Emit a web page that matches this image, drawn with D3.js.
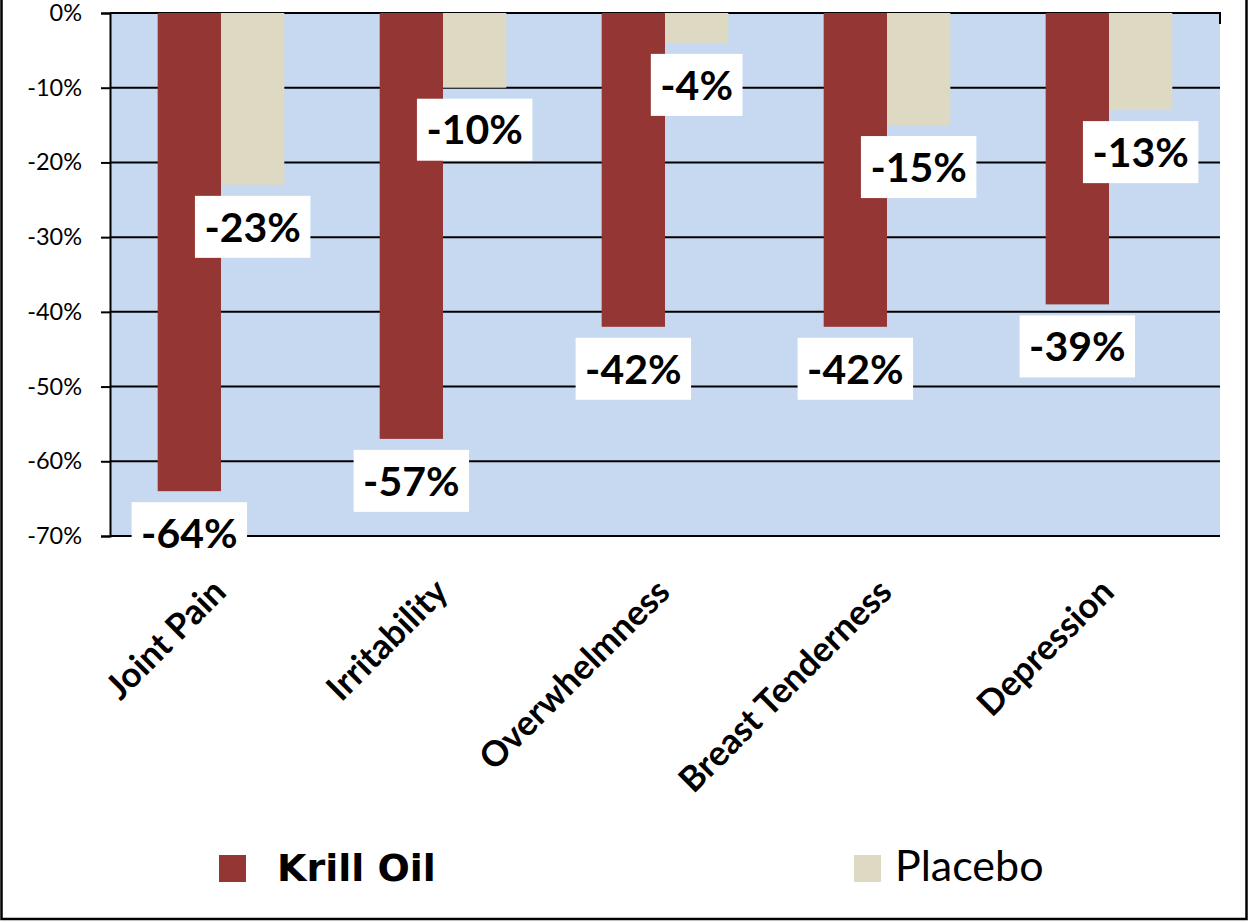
<!DOCTYPE html>
<html>
<head>
<meta charset="utf-8">
<script src="https://cdn.jsdelivr.net/npm/d3@7/dist/d3.min.js"></script>
<style>
  html, body { margin: 0; padding: 0; background: #ffffff; }
  svg { display: block; }
</style>
</head>
<body>
<svg id="chart" width="1249" height="922"></svg>
<script>
// Symptom categories and percentage change per group
const categories = ["Joint Pain", "Irritability", "Overwhelmness", "Breast Tenderness", "Depression"];
const seriesNames = ["Krill Oil", "Placebo"];
const krillOil = [-64, -57, -42, -42, -39];
const placebo = [-23, -10, -4, -15, -13];
const yTicks = [0, -10, -20, -30, -40, -50, -60, -70];

const colors = { "Krill Oil": "#943634", "Placebo": "#DDD9C3" };
const plotBg = "#C6D9F1";

const svg = d3.select("#chart");
const plot = { left: 110, top: 13, right: 1220, bottom: 536 };

const x0 = d3.scaleBand().domain(categories).range([plot.left, plot.right]).paddingInner(0).paddingOuter(0);
const x1 = d3.scaleBand().domain(seriesNames).range([0, x0.bandwidth()]).paddingInner(0).paddingOuter(0.753);
const y = d3.scaleLinear().domain([-70, 0]).range([plot.bottom, plot.top]);

// outer frame
svg.append("rect")
  .attr("x", 1.5).attr("y", -6).attr("width", 1245).attr("height", 925)
  .attr("fill", "none").attr("stroke", "#000").attr("stroke-width", 2.5);

// plot background
svg.append("rect")
  .attr("x", plot.left).attr("y", plot.top)
  .attr("width", plot.right - plot.left).attr("height", plot.bottom - plot.top)
  .attr("fill", plotBg);

// horizontal gridlines (drawn beneath the bars)
svg.append("g").selectAll("line").data(yTicks).join("line")
  .attr("x1", plot.left).attr("x2", plot.right)
  .attr("y1", d => y(d)).attr("y2", d => y(d))
  .attr("stroke", "#000").attr("stroke-width", 2);

// short right-edge mark at the top
svg.append("line")
  .attr("x1", plot.right).attr("x2", plot.right)
  .attr("y1", plot.top - 1).attr("y2", plot.top + 11)
  .attr("stroke", "#000").attr("stroke-width", 2);

// y axis
const yAxis = d3.axisLeft(y).tickValues(yTicks).tickSize(9).tickFormat(d => d + "%");
const gy = svg.append("g").attr("transform", `translate(${plot.left},0)`).call(yAxis);
gy.select(".domain").attr("stroke", "#000").attr("stroke-width", 2);
gy.selectAll(".tick line").attr("stroke", "#000").attr("stroke-width", 2);
gy.selectAll(".tick text")
  .attr("x", -28)
  .attr("fill", "#000")
  .style("font-family", "Lato, 'Open Sans', sans-serif")
  .style("font-size", "23.5px");

// rows of data for bars
const rows = categories.map((c, i) => ({ category: c, values: [
  { series: "Krill Oil", value: krillOil[i] },
  { series: "Placebo", value: placebo[i] }
]}));

const groups = svg.append("g").selectAll("g").data(rows).join("g")
  .attr("transform", d => `translate(${x0(d.category)},0)`);

groups.selectAll("rect").data(d => d.values).join("rect")
  .attr("x", d => x1(d.series))
  .attr("width", x1.bandwidth())
  .attr("y", y(0))
  .attr("height", d => y(d.value) - y(0))
  .attr("fill", d => colors[d.series]);

// value labels in white boxes below each bar end
const labelFont = "Lato, 'Open Sans', sans-serif";
const labels = svg.append("g");
rows.forEach(r => {
  r.values.forEach(v => {
    const cx = x0(r.category) + x1(v.series) + x1.bandwidth() / 2;
    const cy = y(v.value) + 42;
    const g = labels.append("g");
    const box = g.append("rect").attr("fill", "#fff");
    const t = g.append("text")
      .attr("x", cx).attr("y", cy).attr("dy", "0.36em")
      .attr("text-anchor", "middle")
      .style("font-family", labelFont)
      .style("font-weight", "bold")
      .style("font-size", "41px")
      .attr("fill", "#000")
      .text(v.value + "%");
    const w = t.node().getComputedTextLength() + 19;
    box.attr("x", cx - w / 2).attr("y", cy - 31).attr("width", w).attr("height", 62);
  });
});

// rotated category labels
svg.append("g").selectAll("text").data(categories).join("text")
  .attr("transform", d => `translate(${x0(d) + x0.bandwidth() / 2 + 7},${594}) rotate(-45)`)
  .attr("text-anchor", "end")
  .style("font-family", labelFont)
  .style("font-weight", "bold")
  .style("font-size", "35px")
  .attr("fill", "#000")
  .text(d => d);

// legend
const legendItems = [
  { name: "Krill Oil", sx: 219, tx: 277, weight: "bold", family: "'DejaVu Sans', Verdana, sans-serif", size: 38 },
  { name: "Placebo", sx: 854, tx: 895, weight: "normal", family: labelFont, size: 43 }
];
const lg = svg.append("g");
legendItems.forEach(it => {
  lg.append("rect").attr("x", it.sx).attr("y", 855).attr("width", 27).attr("height", 27)
    .attr("fill", colors[it.name]);
  lg.append("text").attr("x", it.tx).attr("y", 881)
    .style("font-family", it.family)
    .style("font-weight", it.weight)
    .style("font-size", it.size + "px")
    .attr("fill", "#000")
    .text(it.name);
});
</script>
</body>
</html>
